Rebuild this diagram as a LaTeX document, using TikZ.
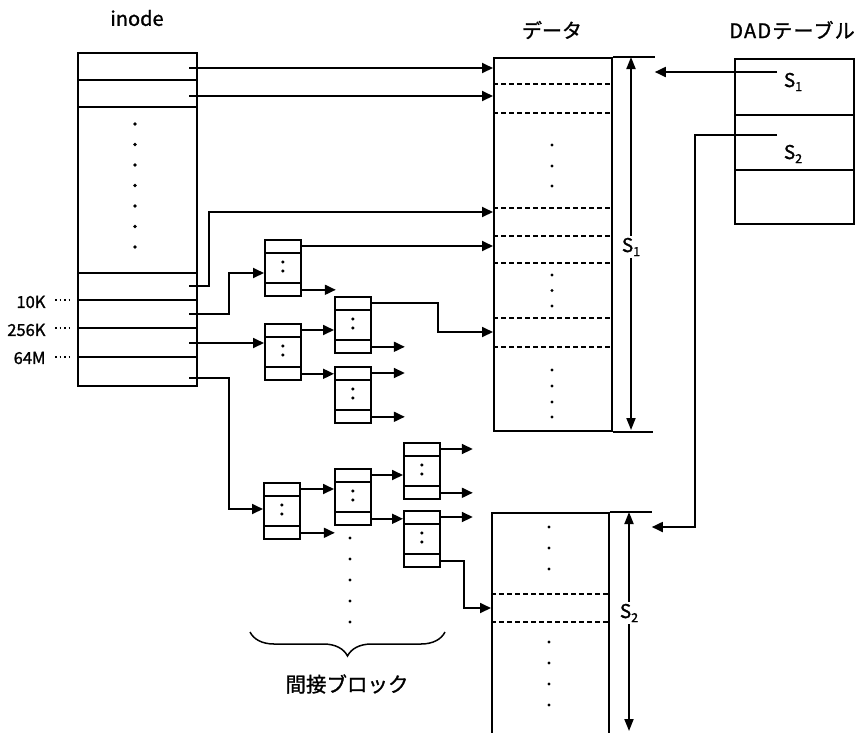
\documentclass[tikz,border=0pt]{standalone}
\usepackage{fontspec}
\setmainfont{Noto Sans CJK JP}[FakeBold=1.2]
\usetikzlibrary{arrows.meta,decorations.pathreplacing}
\newcommand\mysub[1]{\raisebox{-0.4ex}{\fontsize{12.5pt}{12.5pt}\selectfont #1}}
\tikzset{
  ln/.style={line width=1.8pt},
  ptr/.style={line width=1.8pt,-{Triangle[length=11pt,width=10pt]}},
  dimarr/.style={line width=1.8pt,{Triangle[length=12pt,width=9pt]}-{Triangle[length=12pt,width=9pt]}},
  blk/.style={draw,line width=1.8pt,minimum width=36pt,minimum height=56pt,inner sep=0pt,anchor=north west},
  bigbox/.style={draw,line width=1.8pt,inner sep=0pt,anchor=north west},
  dashrow/.style={line width=1.5pt,dash pattern=on 5pt off 3pt},
  title/.style={font=\fontsize{20pt}{22pt}\selectfont},
  lbl/.style={font=\fontsize{16.5pt}{18pt}\selectfont},
  slbl/.style={font=\fontsize{19pt}{21pt}\selectfont,inner sep=2pt},
}
\newcommand\IBlk[3]{%
  \node[blk] (#1) at (#2,#3) {};
  \draw[ln] ([yshift=-14pt]#1.north west) -- ([yshift=-14pt]#1.north east);
  \draw[ln] ([yshift=14pt]#1.south west) -- ([yshift=14pt]#1.south east);
  \fill ([yshift=-23pt]#1.north) circle (1.7pt);
  \fill ([yshift=-32pt]#1.north) circle (1.7pt);
}
\begin{document}
\begin{tikzpicture}[x=1pt,y=-1pt]
\useasboundingbox (0,0) rectangle (862,732);
% titles
\node[title] (tino) at (137,18) {inode};
\node[title] (tdata) at (552,30) {データ};
\node[title,font=\fontsize{20pt}{22pt}\selectfont\addfontfeature{LetterSpace=6}] (tdad) at (792,30) {DADテーブル};
% inode
\node[bigbox,minimum width=119pt,minimum height=333pt] (ino) at (77,52) {};
\foreach \yy in {80,107,273,300,328,357}
  \draw[ln] (ino.west |- 0,\yy) -- (ino.east |- 0,\yy);
\foreach \yy in {124,144.5,165,185.5,206,226.5,247}
  \fill (135,\yy) circle (1.9pt);
% size labels
\node[lbl,anchor=east] (k10) at (49,302) {10K};
\node[lbl,anchor=east] (k256) at (49,330) {256K};
\node[lbl,anchor=east] (m64) at (49,358) {64M};
\foreach \yy in {300,328,357}
  \draw[line width=1.2pt,dash pattern=on 1.5pt off 3pt] (55,\yy) -- (73,\yy);
% inode pointer stubs
\coordinate (i1) at (189,68);
\coordinate (i2) at (189,96);
\coordinate (i4) at (189,286);
\coordinate (i5) at (189,314);
\coordinate (i6) at (189,343);
\coordinate (i7) at (189,378);
% data 1
\node[bigbox,minimum width=118pt,minimum height=373pt] (d1) at (493,57) {};
\draw[ln] (d1.north east) -- ++(42,0) coordinate (d1top);
\draw[ln] (d1.south east) -- ++(40,0) coordinate (d1bot);
\foreach \yy in {84,113,208,236,263,318,347}
  \draw[dashrow] (d1.west |- 0,\yy) -- (d1.east |- 0,\yy);
\foreach \yy in {145,166,186,275,290.5,306,370,386,402,417}
  \fill (552,\yy) circle (1.7pt);
\draw[dimarr] (631,57) -- (631,430);
\node[slbl,fill=white] (s1d) at (631,247) {S\mysub{1}};
% data 2
\node[bigbox,minimum width=117pt,minimum height=232pt] (d2) at (491,512) {};
\draw[ln] (d2.north east) -- ++(42,0) coordinate (d2top);
\foreach \yy in {594,622}
  \draw[dashrow] (d2.west |- 0,\yy) -- (d2.east |- 0,\yy);
\foreach \yy in {527,548,569,642,663,684,705}
  \fill (549,\yy) circle (1.7pt);
\draw[dimarr] (629,512) -- (629,731);
\node[slbl,fill=white] (s2d) at (629,613) {S\mysub{2}};
% DAD table
\node[bigbox,minimum width=119pt,minimum height=165pt] (dad) at (734,58) {};
\foreach \yy in {115,170}
  \draw[ln] (dad.west |- 0,\yy) -- (dad.east |- 0,\yy);
\node[slbl] (ds1) at (793,82) {S\mysub{1}};
\node[slbl] (ds2) at (793,154) {S\mysub{2}};
\coordinate (p1) at (777,72);
\coordinate (p2) at (777,135);
\draw[ptr] (p1) -- (p1 -| d1top);
\draw[ptr] (p2) -| (695,527) -- (d2top |- 0,527);
% indirect blocks
\IBlk{A}{264}{239}
\IBlk{B}{264}{323}
\IBlk{C}{334}{296}
\IBlk{D}{334}{366}
\IBlk{E}{263}{482}
\IBlk{F}{334}{468}
\IBlk{G}{403}{442}
\IBlk{H}{403}{510}
\foreach \yy in {538,559,580,601,622}
  \fill (350,\yy) circle (1.7pt);
% inode pointers
\draw[ptr] (i1) -- (i1 -| d1.west);
\draw[ptr] (i2) -- (i2 -| d1.west);
\draw[ptr] (i4) -| (209,212) -- (d1.west |- 0,212);
\draw[ptr] (i5) -| (229,273) -- (A.west |- 0,273);
\draw[ptr] (i6) -- (i6 -| B.west);
\draw[ptr] (i7) -| (229,509) -- (E.west |- 0,509);
% block pointers
\coordinate (a1) at ([yshift=-7pt]A.north east);
\coordinate (a2) at ([yshift=7pt]A.south east);
\draw[ptr] (a1) -- (a1 -| d1.west);
\draw[ptr] (a2) -- ++(34,0) coordinate (a2e);
\coordinate (b1) at ([yshift=-7pt]B.north east);
\coordinate (b2) at ([yshift=7pt]B.south east);
\draw[ptr] (b1) -- (b1 -| C.west);
\draw[ptr] (b2) -- (b2 -| D.west);
\coordinate (c1) at ([yshift=-7pt]C.north east);
\coordinate (c2) at ([yshift=7pt]C.south east);
\draw[ptr] (c1) -| (438,332) -- (d1.west |- 0,332);
\draw[ptr] (c2) -- ++(33,0) coordinate (c2e);
\coordinate (dd1) at ([yshift=-7pt]D.north east);
\coordinate (dd2) at ([yshift=7pt]D.south east);
\draw[ptr] (dd1) -- ++(33,0) coordinate (dd1e);
\draw[ptr] (dd2) -- ++(33,0) coordinate (dd2e);
\coordinate (e1) at ([yshift=-7pt]E.north east);
\coordinate (e2) at ([yshift=7pt]E.south east);
\draw[ptr] (e1) -- (e1 -| F.west);
\draw[ptr] (e2) -- ++(34,0) coordinate (e2e);
\coordinate (f1) at ([yshift=-7pt]F.north east);
\coordinate (f2) at ([yshift=7pt]F.south east);
\draw[ptr] (f1) -- (f1 -| G.west);
\draw[ptr] (f2) -- (f2 -| H.west);
\coordinate (g1) at ([yshift=-7pt]G.north east);
\coordinate (g2) at ([yshift=7pt]G.south east);
\draw[ptr] (g1) -- ++(32,0) coordinate (g1e);
\draw[ptr] (g2) -- ++(32,0) coordinate (g2e);
\coordinate (h1) at ([yshift=-7pt]H.north east);
\coordinate (h2) at ([yshift=7pt]H.south east);
\draw[ptr] (h1) -- ++(32,0) coordinate (h1e);
\draw[ptr] (h2) -| (464,608) -- (d2.west |- 0,608);
% brace and label
\draw[line width=1.5pt,decorate,decoration={brace,amplitude=24pt}] (445,632) -- (250,632);
\node[font=\fontsize{20.5pt}{22pt}\selectfont] (ib) at (347,684) {間接ブロック};
\end{tikzpicture}
\end{document}
